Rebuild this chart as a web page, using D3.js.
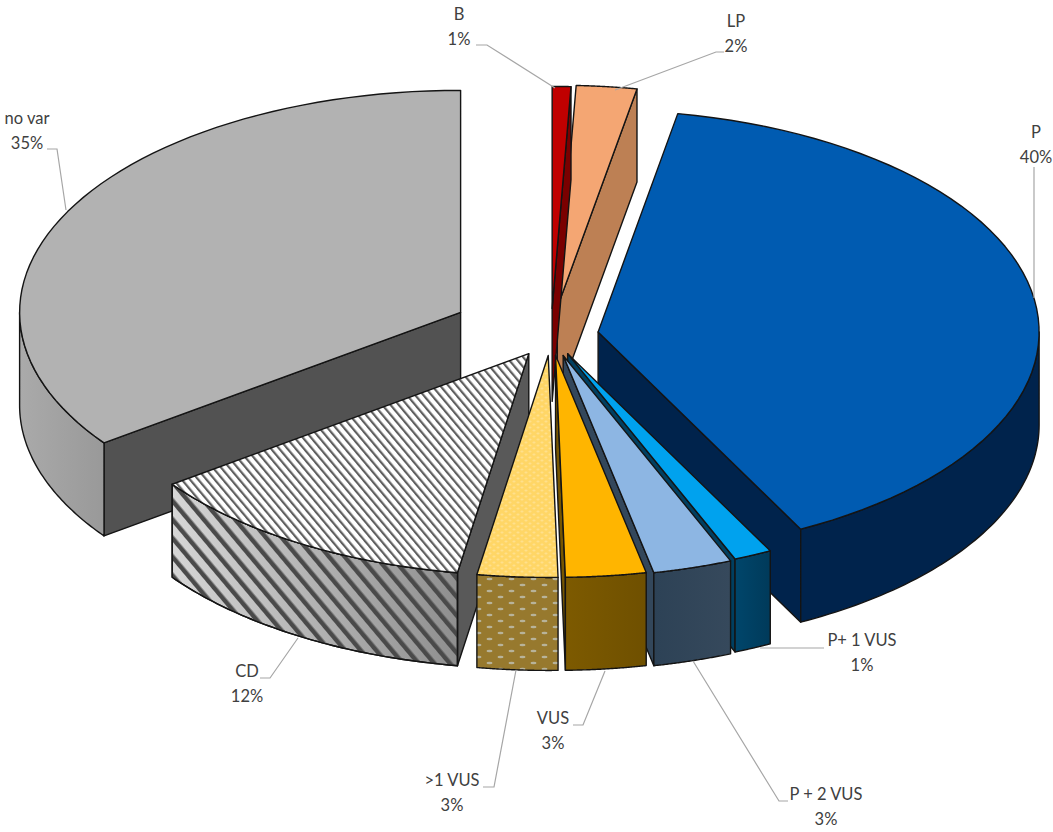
<!DOCTYPE html>
<html>
<head>
<meta charset="utf-8">
<style>
  html, body { margin: 0; padding: 0; background: #fff; }
  text { font-family: Lato, "Open Sans", sans-serif; font-size: 16.5px; fill: #404040; text-anchor: middle; }
</style>
<script src="https://cdn.jsdelivr.net/npm/d3@7/dist/d3.min.js"></script>
</head>
<body>
<div id="chart"></div>
<script>
// slices, clockwise from 12 o'clock
const categories = ["B", "LP", "P", "P+ 1 VUS", "P + 2 VUS", "VUS", ">1 VUS", "CD", "no var"];
// share of the circle
const shares = [0.68, 2.21, 39.5, 1.4, 2.9, 2.94, 2.94, 12.4, 35.0];
// the percentages printed on the labels
const percentLabels = ["1%", "2%", "40%", "1%", "3%", "3%", "3%", "12%", "35%"];

const width = 1053;
const height = 832;
const center = { x: 551, y: 335.5 };
const rx = 441;
const ry = 222;
const depth = 93;

// how far each slice is pulled out of the pie
const explosion = [0.122, 0.128, 0.108, 0.09, 0.094, 0.09, 0.09, 0.096, 0.23];
// back to front
const drawOrder = [8, 1, 0, 2, 3, 4, 5, 7, 6];

const topFill = ["#c00000", "#f4a673", "#005bb1", "#00a2ee", "#8db6e3", "#ffb500", "url(#dotsTop)", "url(#stripesTop)", "#b2b2b2"];
const wallFill = ["#7a0000", "#bd8054", "#00234c", "#003f60", "#33475b", "#775600", "url(#dotsWall)", "#595959", "#525252"];
const outerFill = ["#7a0000", "#bd8054", "#00234c", "url(#wallP1)", "url(#wallP2)", "url(#wallVus)", "url(#dotsWall)", "url(#wallCd)", "url(#wallNoVar)"];

// label text centre, first baseline, then the leader line from slice to label
const labelLayout = [
  { x: 459, y: 20, leader: [[555, 88], [487, 45], [476, 45]] },
  { x: 736, y: 27, leader: [[615, 90], [716, 52], [724, 52]] },
  { x: 1036, y: 138, leader: [[1034, 298], [1034, 167]] },
  { x: 862, y: 646, leader: [[760, 648], [824, 648]] },
  { x: 826, y: 800, leader: [[693, 661], [779, 801], [788, 801]] },
  { x: 553, y: 724, leader: [[605, 671], [583, 725], [573, 725]] },
  { x: 452, y: 786, leader: [[516, 670], [494, 787], [483, 787]] },
  { x: 247, y: 677, leader: [[298, 638], [270, 678], [260, 678]] },
  { x: 27, y: 124, leader: [[66, 210], [57, 149], [47, 149]] }
];

const svg = d3
  .select("#chart")
  .append("svg")
  .attr("width", width)
  .attr("height", height)
  .style("display", "block");

const defs = svg.append("defs");

const stripes = (id, size, stroke, sw, bg) => {
  const p = defs
    .append("pattern")
    .attr("id", id)
    .attr("patternUnits", "userSpaceOnUse")
    .attr("width", size)
    .attr("height", size)
    .attr("patternTransform", "rotate(-40)");
  if (bg) p.append("rect").attr("width", size).attr("height", size).attr("fill", bg);
  p.append("rect").attr("width", sw).attr("height", size).attr("fill", stroke);
};
stripes("stripesTop", 6.3, "#5f5f5f", 2.2, "#fff");
stripes("stripesWall", 12, "#4a4a4a", 4.5, null);

const dots = (id, w, h, bg, dot, rw, rh) => {
  const p = defs
    .append("pattern")
    .attr("id", id)
    .attr("patternUnits", "userSpaceOnUse")
    .attr("width", w)
    .attr("height", h);
  p.append("rect").attr("width", w).attr("height", h).attr("fill", bg);
  [[w / 4, h / 4], [(3 * w) / 4, (3 * h) / 4]].forEach(([cx, cy]) => {
    p.append("ellipse").attr("cx", cx).attr("cy", cy).attr("rx", rw).attr("ry", rh).attr("fill", dot);
  });
};
dots("dotsTop", 8, 6, "#ffd666", "#ffe08c", 1.6, 1);
dots("dotsWall", 22, 12, "#97792e", "#b8b39a", 3, 1.3);

const gradient = (id, stops) => {
  const g = defs.append("linearGradient").attr("id", id).attr("x1", "0").attr("x2", "1").attr("y1", "0").attr("y2", "0");
  stops.forEach(([o, c]) => g.append("stop").attr("offset", o).attr("stop-color", c));
};
gradient("wallNoVar", [[0, "#aaaaaa"], [1, "#999999"]]);
gradient("wallCd", [[0, "#d6d6d6"], [1, "#8f8f8f"]]);
gradient("wallVus", [[0, "#7d5a00"], [1, "#6f5000"]]);
gradient("wallP2", [[0, "#2d4256"], [1, "#36495c"]]);
gradient("wallP1", [[0, "#00466b"], [1, "#003a5a"]]);

const pie = d3
  .pie()
  .sort(null)
  .value((d) => d)
  .startAngle(0)
  .endAngle(2 * Math.PI);
const arcs = pie(shares);

const xScale = d3.scaleLinear().domain([-1, 1]).range([-rx, rx]);
const yScale = d3.scaleLinear().domain([-1, 1]).range([-ry, ry]);

// point on the tilted circle, for an angle clockwise from north
const project = (apex, a, r = 1) => [
  apex[0] + xScale(r * Math.sin(a)),
  apex[1] + yScale(-r * Math.cos(a))
];

const line = d3.line();
const closed = (pts) => line(pts) + "Z";
const down = ([x, y]) => [x, y + depth];
const arcPoints = (apex, a0, a1) =>
  d3.range(0, 61).map((i) => project(apex, a0 + ((a1 - a0) * i) / 60));

const outline = { stroke: "#141414", "stroke-width": 1.4, "stroke-linejoin": "round" };
const face = (g, d, fill) => {
  const p = g.append("path").attr("d", d).attr("fill", fill);
  Object.entries(outline).forEach(([k, v]) => p.attr(k, v));
  return p;
};

const chart = svg.append("g");

drawOrder.forEach((i) => {
  const { startAngle: a0, endAngle: a1 } = arcs[i];
  const mid = (a0 + a1) / 2;
  const apex = project([center.x, center.y], mid, explosion[i]);
  const g = chart.append("g").attr("class", "slice");

  // radial wall, only the side that faces the viewer
  if (Math.sin(a1) > 0.0001) {
    const e = project(apex, a1);
    face(g, closed([apex, e, down(e), down(apex)]), wallFill[i]);
  }
  if (Math.sin(a0) < -0.0001) {
    const e = project(apex, a0);
    face(g, closed([apex, e, down(e), down(apex)]), wallFill[i]);
  }

  // rim, the part of the arc on the lower half
  const from = Math.max(a0, Math.PI / 2);
  const to = Math.min(a1, (3 * Math.PI) / 2);
  if (to > from) {
    const upper = arcPoints(apex, from, to);
    const rim = closed(upper.concat(upper.map(down).reverse()));
    face(g, rim, outerFill[i]);
    if (categories[i] === "CD") {
      g.append("path").attr("d", rim).attr("fill", "url(#stripesWall)").attr("stroke", "none");
      face(g, rim, "none");
    }
  }

  face(g, closed([apex].concat(arcPoints(apex, a0, a1))), topFill[i]);
});

const labels = svg.append("g");
labelLayout.forEach((l, i) => {
  labels
    .append("path")
    .attr("d", line(l.leader))
    .attr("fill", "none")
    .attr("stroke", "#a6a6a6")
    .attr("stroke-width", 1.2);
  labels.append("text").attr("x", l.x).attr("y", l.y).text(categories[i]);
  labels.append("text").attr("x", l.x).attr("y", l.y + 24.5).text(percentLabels[i]);
});
</script>
</body>
</html>
